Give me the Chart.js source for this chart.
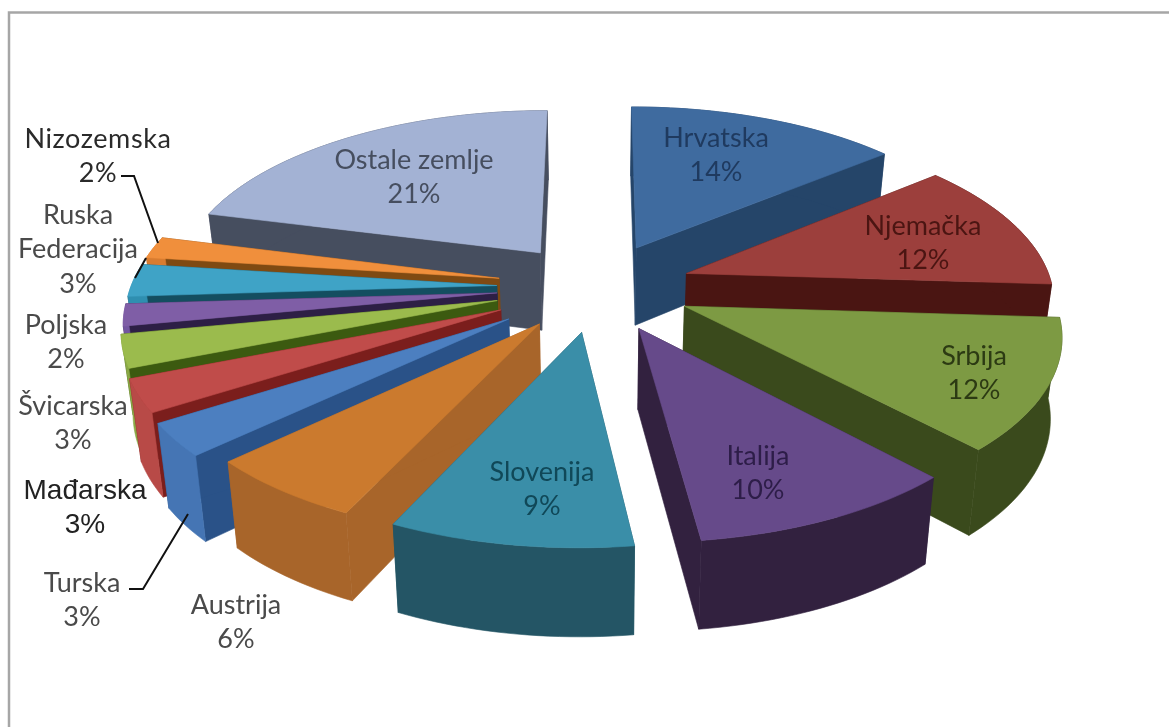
<!DOCTYPE html>
<html>
<head>
<meta charset="utf-8">
<script src="https://cdn.jsdelivr.net/npm/chart.js@4/dist/chart.umd.min.js"></script>
<style>
  html, body { margin: 0; padding: 0; background: #fff; overflow: hidden; }
  canvas { display: block; }
</style>
</head>
<body>
<canvas id="grafikon" width="1169" height="727"></canvas>
<script>
// Podaci
const zemlje = ['Hrvatska', 'Njemačka', 'Srbija', 'Italija', 'Slovenija', 'Austrija', 'Turska',
  'Mađarska', 'Švicarska', 'Poljska', 'Ruska Federacija', 'Nizozemska', 'Ostale zemlje'];
const udjeli = [14, 12, 12, 10, 9, 6, 3, 3, 3, 2, 3, 2, 21];

// Izvlačenje kriški (Chart.js offset); male kriške lijevo su malo dalje
const izvlacenje = [237, 237, 237, 237, 237, 237, 271, 264, 256, 250, 250, 250, 237];

// Boje: gornja ploha, radijalna stijenka, vanjski rub
const bojeVrh = ['#3f6b9f', '#9c3f3c', '#7d9a43', '#664a8a', '#3a8ea8', '#cb7a2e', '#4c7fc0',
  '#c04c4a', '#9bbb4d', '#7f5ea6', '#3fa3c6', '#f08f3c', '#a3b2d4'];
const bojeStijenka = ['#254569', '#4a1512', '#3a4a1c', '#32213f', '#245565', '#a8652a', '#2a5288',
  '#7b1e1c', '#3c5a10', '#2d1f45', '#144e60', '#7f4a12', '#464e5f'];
const bojeRub = ['#254569', '#4a1512', '#3a4a1c', '#32213f', '#245565', '#a8652a', '#4575b4',
  '#b84a47', '#8aa845', '#7356a0', '#2f8fb0', '#d87c30', '#464e5f'];
const bojeTekst = ['#1f3a5f', '#4b1512', '#2c3a13', '#2d1d48', '#104858', '#4a4a4a', '#4a4a4a',
  '#222222', '#4a4a4a', '#4a4a4a', '#4a4a4a', '#2a2a2a', '#464e5f'];

// Središta natpisa, prvi redak
const natpisXY = [[716, 138], [923, 226], [974, 356], [758, 456], [542, 472], [236, 605], [82, 583],
  [85, 491], [73, 406], [66, 325], [78, 215], [98, 139], [414, 160]];
const prijelom = { 'Ruska Federacija': ['Ruska', 'Federacija'] };
const vodilice = [
  [[121, 176], [134, 176], [158, 243]],
  [[146, 258], [135, 278]],
  [[129, 589], [143, 589], [188, 514]],
];

// Projekcija: x,y u polumjerima kruga (y raste prema gledatelju)
const CX = 597, CY = 287, SX = 366, SY = 171, PERSP = 0.14;

function projekcija(x, y) {
  const s = 1 / (1 - PERSP * y);
  return [CX + SX * x * s, CY + SY * y * s];
}

// Donja ploha: malo uža prema središtu i deblja sprijeda
function dolje(t, y) {
  return [CX + (t[0] - CX) * 0.975, t[1] + 79 + 8 * y];
}

function mnogokut(ctx, tocke, boja) {
  ctx.beginPath();
  tocke.forEach((t, i) => (i ? ctx.lineTo(t[0], t[1]) : ctx.moveTo(t[0], t[1])));
  ctx.closePath();
  ctx.fillStyle = boja;
  ctx.strokeStyle = boja;
  ctx.lineWidth = 0.6;
  ctx.fill();
  ctx.stroke();
}

const pita3d = {
  id: 'pita3d',
  beforeDatasetsDraw(chart) {
    const ctx = chart.ctx;
    const meta = chart.getDatasetMeta(0);
    const kriske = meta.data.map((luk, i) => {
      const p = luk.getProps(['startAngle', 'endAngle', 'outerRadius']);
      const sred = (p.startAngle + p.endAngle) / 2;
      return { i, a0: p.startAngle, a1: p.endAngle, sred, e: luk.options.offset / 4 / p.outerRadius };
    });
    // od straga prema naprijed
    kriske.sort((a, b) => Math.sin(a.sred) - Math.sin(b.sred));

    kriske.forEach((k) => {
      const ox = Math.cos(k.sred) * k.e, oy = Math.sin(k.sred) * k.e;
      const n = Math.max(6, Math.round((k.a1 - k.a0) * 40));
      const svijet = [];
      for (let j = 0; j <= n; j++) {
        const a = k.a0 + (k.a1 - k.a0) * j / n;
        svijet.push([ox + Math.cos(a), oy + Math.sin(a)]);
      }
      const vrh = svijet.map((w) => projekcija(w[0], w[1]));
      const dno = vrh.map((t, j) => dolje(t, svijet[j][1]));
      const s = projekcija(ox, oy), sd = dolje(s, oy);
      const zadnji = vrh.length - 1;

      mnogokut(ctx, [s, vrh[0], dno[0], sd], bojeStijenka[k.i]);
      mnogokut(ctx, [s, vrh[zadnji], dno[zadnji], sd], bojeStijenka[k.i]);
      mnogokut(ctx, vrh.concat(dno.slice().reverse()), bojeRub[k.i]);
      mnogokut(ctx, [s].concat(vrh), bojeVrh[k.i]);
    });
    return false;
  },
  afterDraw(chart) {
    const ctx = chart.ctx;
    ctx.save();
    // okvir
    ctx.strokeStyle = '#a6a6a6';
    ctx.lineWidth = 2.5;
    ctx.beginPath();
    ctx.moveTo(9, 727);
    ctx.lineTo(9, 12.5);
    ctx.lineTo(1169, 12.5);
    ctx.stroke();

    ctx.strokeStyle = '#111';
    ctx.lineWidth = 2;
    vodilice.forEach((v) => {
      ctx.beginPath();
      v.forEach((t, i) => (i ? ctx.lineTo(t[0], t[1]) : ctx.moveTo(t[0], t[1])));
      ctx.stroke();
    });

    ctx.textAlign = 'center';
    ctx.textBaseline = 'middle';
    zemlje.forEach((ime, i) => {
      const redci = (prijelom[ime] || [ime]).concat(udjeli[i] + '%');
      ctx.font = ime === 'Mađarska' ? '28px "Liberation Sans"' : '27px Lato';
      ctx.letterSpacing = ime === 'Nizozemska' ? '0.6px' : '0px';
      ctx.fillStyle = bojeTekst[i];
      redci.forEach((r, j) => ctx.fillText(r, natpisXY[i][0], natpisXY[i][1] + j * 34.5));
    });
    ctx.restore();
  },
};

new Chart(document.getElementById('grafikon'), {
  type: 'pie',
  data: {
    labels: zemlje,
    datasets: [{ data: udjeli, backgroundColor: bojeVrh, borderWidth: 0, offset: izvlacenje }],
  },
  options: {
    responsive: false,
    animation: false,
    layout: { padding: 0 },
    plugins: { legend: { display: false }, tooltip: { enabled: false } },
  },
  plugins: [pita3d],
});
</script>
</body>
</html>
